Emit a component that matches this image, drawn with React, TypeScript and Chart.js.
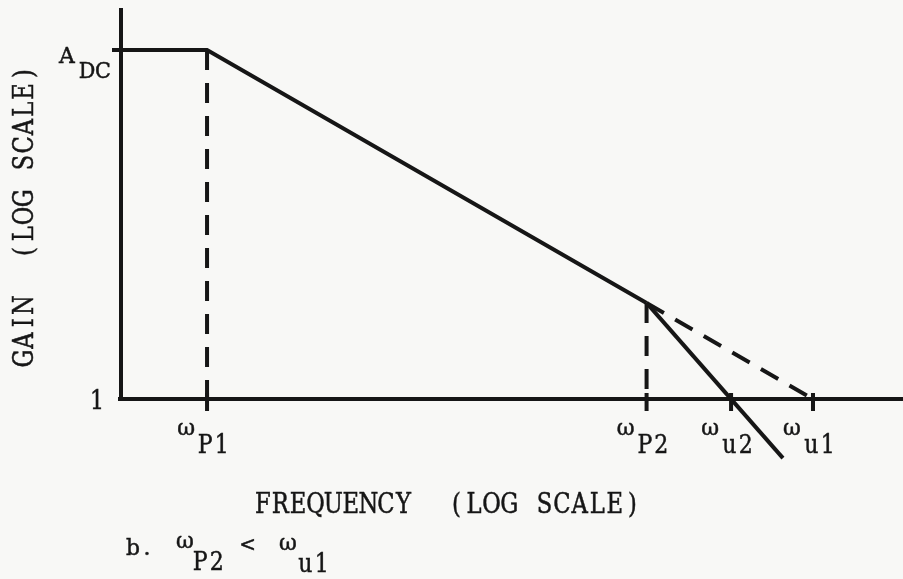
import React, { useEffect, useRef } from "react";
import { Chart, registerables } from "chart.js";

Chart.register(...registerables);

// ---- data (frequency in rad/s, gain as ratio; both plotted on log scales) ----
const mainFreq = [3.75, 10, 1500];
const mainGain = [1000, 1000, 6.7];
const steepFreq = [1500, 7100];
const steepGain = [6.7, 0.31];
const extFreq = [1500, 10000];
const extGain = [6.7, 1];
const p1DropFreq = [10, 10];
const p1DropGain = [1000, 1];
const p2DropFreq = [1500, 1500];
const p2DropGain = [6.7, 1];

const xTickFreqs = [10, 1500, 3930, 10000];
const xTickSymbol = ["ω", "ω", "ω", "ω"];
const xTickSubs = ["P1", "P2", "u2", "u1"];
const yTickGains = [1000, 1];
const yTickMain = ["A", "1"];
const yTickSubs = ["DC", ""];

const xTitle = "FREQUENCY  (LOG SCALE)";
const yTitle = "GAIN  (LOG SCALE)";
const captionParts = ["b.", "ω", "P2", "<", "ω", "u1"];

const FONT = '"DejaVu Serif", "Liberation Serif", serif';
const INK = "#161616";

function pts(xs: number[], ys: number[]) {
  return xs.map((x, i) => ({ x, y: ys[i] }));
}

// typewriter-like fixed-pitch text
function mono(
  ctx: CanvasRenderingContext2D,
  s: string,
  x: number,
  y: number,
  size: number,
  pitch: number,
  sx: number,
  align: "left" | "center" | "right" = "left"
) {
  const total = s.length * pitch;
  const start = align === "center" ? x - total / 2 : align === "right" ? x - total : x;
  ctx.save();
  ctx.font = `${size}px ${FONT}`;
  ctx.textAlign = "center";
  ctx.textBaseline = "alphabetic";
  ctx.fillStyle = INK;
  ctx.strokeStyle = INK;
  ctx.lineWidth = 0.5;
  for (let i = 0; i < s.length; i++) {
    const ch = s[i];
    if (ch === " ") continue;
    ctx.save();
    ctx.translate(start + pitch * (i + 0.5), y);
    ctx.scale(sx, 1);
    ctx.fillText(ch, 0, 0);
    ctx.strokeText(ch, 0, 0);
    ctx.restore();
  }
  ctx.restore();
}

const decorPlugin = {
  id: "decor",
  beforeDraw(chart: any) {
    const ctx = chart.ctx as CanvasRenderingContext2D;
    ctx.save();
    ctx.fillStyle = "#f8f8f6";
    ctx.fillRect(0, 0, chart.width, chart.height);
    ctx.restore();
  },
  afterDatasetsDraw(chart: any) {
    const ctx = chart.ctx as CanvasRenderingContext2D;
    const xs = chart.scales.x;
    const ys = chart.scales.y;
    const area = chart.chartArea;
    const y1 = ys.getPixelForValue(1);

    ctx.save();
    ctx.strokeStyle = INK;
    ctx.lineWidth = 4;
    ctx.lineCap = "butt";
    // axes
    ctx.beginPath();
    ctx.moveTo(area.left, area.top);
    ctx.lineTo(area.left, y1 + 2);
    ctx.moveTo(area.left - 3, y1);
    ctx.lineTo(chart.width, y1);
    ctx.stroke();
    // x ticks
    ctx.beginPath();
    xTickFreqs.forEach((f) => {
      const px = xs.getPixelForValue(f);
      ctx.moveTo(px, y1 - 6);
      ctx.lineTo(px, y1 + 12);
    });
    // A_DC tick on y axis
    const yA = ys.getPixelForValue(yTickGains[0]);
    ctx.moveTo(area.left - 9, yA);
    ctx.lineTo(area.left, yA);
    ctx.stroke();
    ctx.restore();

    // x tick labels
    xTickFreqs.forEach((f, i) => {
      const px = xs.getPixelForValue(f);
      mono(ctx, xTickSymbol[i], px - 14, y1 + 36, 23, 14, 0.95, "right");
      mono(ctx, xTickSubs[i], px - 10, y1 + 54, 26, 16.5, 0.85, "left");
    });

    // y tick labels
    const yTop = ys.getPixelForValue(yTickGains[0]);
    mono(ctx, yTickMain[0], 59, yTop + 13, 23, 16, 0.95, "left");
    mono(ctx, yTickSubs[0], 79, yTop + 28, 23, 16, 0.9, "left");
    const yOne = ys.getPixelForValue(yTickGains[1]);
    mono(ctx, yTickMain[1], 97, yOne + 10, 26, 14, 0.85, "center");

    // axis titles
    mono(ctx, xTitle, 254, 513, 27, 17.6, 0.84, "left");
    ctx.save();
    ctx.translate(33, 216);
    ctx.rotate(-Math.PI / 2);
    mono(ctx, yTitle, 0, 0, 27, 17.8, 0.84, "center");
    ctx.restore();

    // caption
    mono(ctx, captionParts[0], 126, 555, 23, 14, 0.95, "left");
    mono(ctx, captionParts[1], 178, 548, 23, 14, 0.95, "left");
    mono(ctx, captionParts[2], 192, 570, 26, 16.5, 0.85, "left");
    mono(ctx, captionParts[3], 241, 551, 21, 13, 0.95, "left");
    mono(ctx, captionParts[4], 281, 550, 23, 14, 0.95, "left");
    mono(ctx, captionParts[5], 297, 572, 26, 16.5, 0.85, "left");
  },
};

export default function App() {
  const ref = useRef<HTMLCanvasElement | null>(null);

  useEffect(() => {
    document.body.style.margin = "0";
    const canvas = ref.current;
    if (!canvas) return;
    const solid = {
      borderColor: INK,
      borderWidth: 4,
      pointRadius: 0,
      tension: 0,
      fill: false,
      clip: false as any,
    };
    const dashed = { ...solid, borderDash: [20, 13] };
    const chart = new Chart(canvas, {
      type: "line",
      data: {
        datasets: [
          { ...solid, data: pts(mainFreq, mainGain) },
          { ...solid, data: pts(steepFreq, steepGain) },
          { ...dashed, data: pts(extFreq, extGain) },
          { ...dashed, data: pts(p1DropFreq, p1DropGain) },
          { ...dashed, data: pts(p2DropFreq, p2DropGain) },
        ],
      },
      options: {
        animation: false,
        responsive: false,
        maintainAspectRatio: false,
        layout: { padding: { left: 121, top: 8, right: 0, bottom: 180 } },
        plugins: {
          legend: { display: false },
          tooltip: { enabled: false },
          title: { display: false },
        },
        scales: {
          x: { type: "logarithmic", display: false, min: 3.75, max: 27900 },
          y: { type: "logarithmic", display: false, min: 1, max: 2296 },
        },
      },
      plugins: [decorPlugin],
    });
    return () => chart.destroy();
  }, []);

  return (
    <div style={{ position: "absolute", left: 0, top: 0, width: 903, height: 579 }}>
      <canvas ref={ref} width={903} height={579} style={{ width: 903, height: 579, display: "block" }} />
    </div>
  );
}
